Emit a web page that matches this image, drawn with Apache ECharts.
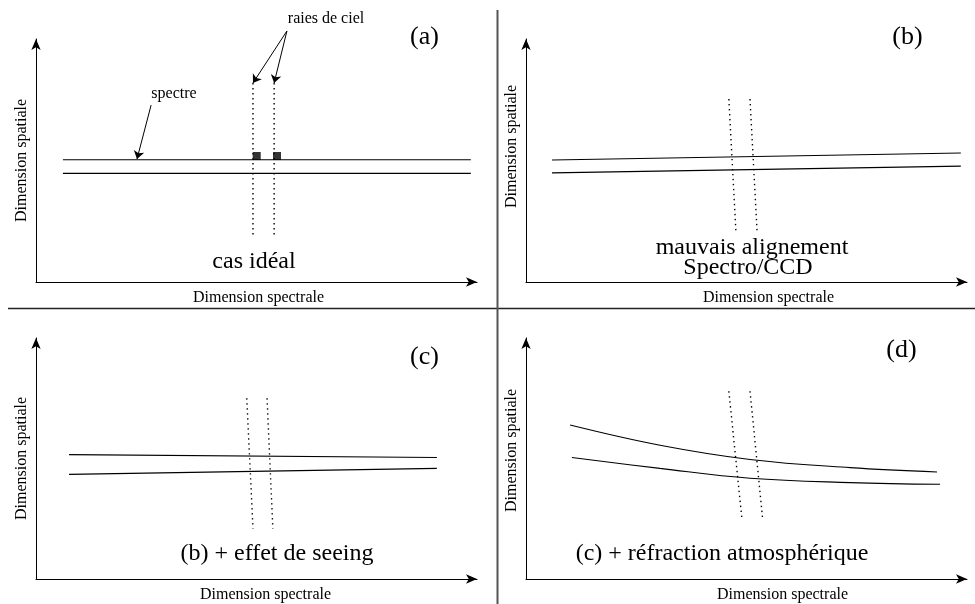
<!DOCTYPE html>
<html>
<head>
<meta charset="utf-8">
<script src="https://cdn.jsdelivr.net/npm/echarts@6/dist/echarts.min.js"></script>
<style>html,body{margin:0;padding:0;background:#fff}#c{width:975px;height:604px}</style>
</head>
<body>
<div id="c"></div>
<script>
// ---- texts ----
const panelLetters = ['(a)', '(b)', '(c)', '(d)'];
const captions = ['cas idéal', 'mauvais alignement', 'Spectro/CCD', '(b) + effet de seeing', '(c) + réfraction atmosphérique'];
const annotations = ['spectre', 'raies de ciel'];
const xAxisName = 'Dimension spectrale';
const yAxisName = 'Dimension spatiale';

// ---- panel (a): cas idéal (axis units 0..100) ----
const aUpper = [[6.1, 50.3], [98.6, 50.3]];
const aLower = [[6.1, 44.7], [98.6, 44.7]];
const aSky1 = [[49.2, 81.9], [49.2, 19.3]];
const aSky2 = [[54.0, 81.9], [54.0, 19.3]];
const aSkyMarks = [[50.05, 51.85], [54.65, 51.85]];
const aSpectreArrow = [[26.1, 72.8], [22.9, 50.6]];
const aSkyArrow1 = [[56.9, 103.3], [49.2, 81.9]];
const aSkyArrow2 = [[56.9, 103.3], [54.0, 81.9]];

// ---- panel (b): mauvais alignement ----
const bUpper = [[5.9, 50.2], [98.6, 53.1]];
const bLower = [[5.9, 44.9], [98.6, 47.7]];
const bSky1 = [[46.0, 75.3], [47.6, 20.6]];
const bSky2 = [[50.8, 75.3], [52.4, 20.6]];

// ---- panel (c): + seeing ----
const cUpper = [[7.5, 51.6], [90.9, 50.4]];
const cLower = [[7.5, 43.4], [90.9, 45.9]];
const cSky1 = [[47.8, 75.0], [49.2, 20.9]];
const cSky2 = [[52.4, 75.0], [53.7, 20.9]];

// ---- panel (d): + réfraction atmosphérique ----
const dUpper = [[10.0, 63.9], [30.4, 55.5], [50.8, 49.6], [73.5, 46.2], [93.2, 44.4]];
const dLower = [[10.4, 50.4], [30.4, 45.9], [50.8, 41.8], [73.5, 40.0], [93.9, 39.3]];
const dSky1 = [[46.0, 77.9], [49.0, 24.2]];
const dSky2 = [[50.8, 77.9], [53.7, 24.2]];

const FONT = 'Liberation Serif';
const grids = [
  {left: 36, top: 39, width: 441, height: 243},
  {left: 526, top: 39, width: 441, height: 243},
  {left: 36, top: 338, width: 441, height: 244},
  {left: 526, top: 338, width: 441, height: 244}
];
// horizontal shift of x name, vertical shift (up) of y name
const xNameShift = [2, 22, 9, 36];
const yNameShift = [0, 14, 0, 8];

const axisLine = {show: true, symbol: ['none', 'arrow'], symbolSize: [7, 11], lineStyle: {color: '#000', width: 1}};
const xAxes = grids.map((g, i) => ({
  type: 'value', gridIndex: i, min: 0, max: 100,
  axisLine, axisTick: {show: false}, axisLabel: {show: false}, splitLine: {show: false},
  name: xAxisName, nameLocation: 'middle', nameGap: 8,
  nameTextStyle: {fontFamily: FONT, fontSize: 16, color: '#000', padding: [0, 0, 0, 2 * xNameShift[i]]}
}));
const yAxes = grids.map((g, i) => ({
  type: 'value', gridIndex: i, min: 0, max: 100,
  axisLine, axisTick: {show: false}, axisLabel: {show: false}, splitLine: {show: false},
  name: yAxisName, nameLocation: 'middle', nameGap: 6,
  nameTextStyle: {fontFamily: FONT, fontSize: 16, color: '#000', padding: [0, 0, 0, 2 * yNameShift[i]]}
}));

function solid(data, i, smooth) {
  return {type: 'line', xAxisIndex: i, yAxisIndex: i, data, showSymbol: false, symbol: 'none',
    smooth: smooth ? 0.4 : false, lineStyle: {color: '#000', width: 1.1}, silent: true, animation: false};
}
function dotted(data, i) {
  return {type: 'line', xAxisIndex: i, yAxisIndex: i, data, showSymbol: false, symbol: 'none',
    lineStyle: {color: '#000', width: 1.4, type: [1.4, 3.6]}, silent: true, animation: false};
}
function arrow(coords, i) {
  return {type: 'lines', coordinateSystem: 'cartesian2d', xAxisIndex: i, yAxisIndex: i, clip: false,
    symbol: ['none', 'arrow'], symbolSize: 8, lineStyle: {color: '#000', width: 1, opacity: 1},
    data: [{coords}], silent: true, animation: false};
}

const series = [
  solid(aUpper, 0), solid(aLower, 0), dotted(aSky1, 0), dotted(aSky2, 0),
  {type: 'scatter', xAxisIndex: 0, yAxisIndex: 0, data: aSkyMarks, symbol: 'rect', symbolSize: 8,
    itemStyle: {color: '#000'}, silent: true, animation: false},
  arrow(aSpectreArrow, 0), arrow(aSkyArrow1, 0), arrow(aSkyArrow2, 0),
  solid(bUpper, 1), solid(bLower, 1), dotted(bSky1, 1), dotted(bSky2, 1),
  solid(cUpper, 2), solid(cLower, 2), dotted(cSky1, 2), dotted(cSky2, 2),
  solid(dUpper, 3, true), solid(dLower, 3, true), dotted(dSky1, 3), dotted(dSky2, 3)
];

function txt(text, x, y, size) {
  return {type: 'text', x, y, silent: true,
    style: {text, fontFamily: FONT, fontSize: size, fill: '#000', textAlign: 'center', textVerticalAlign: 'middle'}};
}
const graphic = [
  {type: 'line', silent: true, shape: {x1: 8, y1: 308.5, x2: 975, y2: 308.5}, style: {stroke: '#222', lineWidth: 1.5}},
  {type: 'line', silent: true, shape: {x1: 497.5, y1: 10, x2: 497.5, y2: 604}, style: {stroke: '#555', lineWidth: 2}},
  txt(panelLetters[0], 424.5, 37, 26),
  txt(panelLetters[1], 907.5, 37, 26),
  txt(panelLetters[2], 424.5, 357, 26),
  txt(panelLetters[3], 901.5, 350, 26),
  txt(captions[0], 254, 262, 24),
  txt(captions[1], 752, 248, 24),
  txt(captions[2], 748, 268, 24),
  txt(captions[3], 277, 554, 24),
  txt(captions[4], 722, 554, 24),
  txt(annotations[0], 174, 94, 16),
  txt(annotations[1], 326, 19, 16)
];

const chart = echarts.init(document.getElementById('c'), null, {renderer: 'canvas'});
chart.setOption({
  animation: false,
  backgroundColor: '#fff',
  grid: grids,
  xAxis: xAxes,
  yAxis: yAxes,
  series,
  graphic
});
</script>
</body>
</html>
